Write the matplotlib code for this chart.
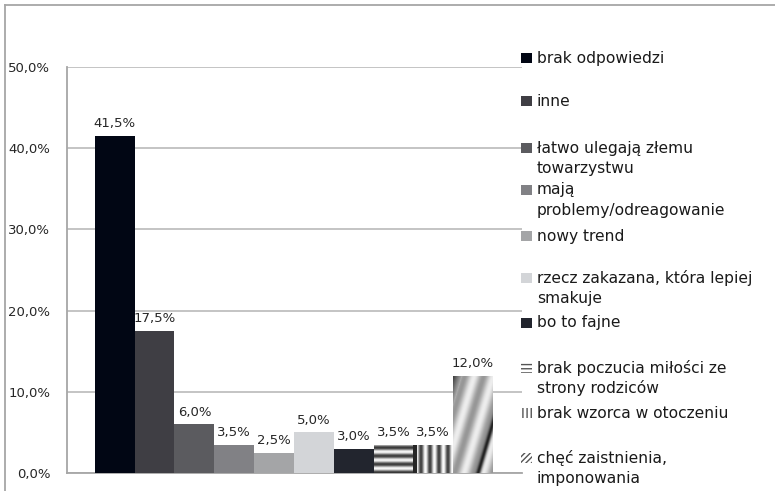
# -*- coding: UTF-8 -*-
import matplotlib.pyplot as plt
import matplotlib.patches as mpatches
import numpy as np

# dane z wykresu
kategorie = ['brak odpowiedzi', 'inne', 'łatwo ulegają złemu\ntowarzystwu',
             'mają\nproblemy/odreagowanie', 'nowy trend',
             'rzecz zakazana, która lepiej\nsmakuje', 'bo to fajne',
             'brak poczucia miłości ze\nstrony rodziców', 'brak wzorca w otoczeniu',
             'chęć zaistnienia,\nimponowania']
wartosci = [41.5, 17.5, 6.0, 3.5, 2.5, 5.0, 3.0, 3.5, 3.5, 12.0]
etykiety = ['41,5%', '17,5%', '6,0%', '3,5%', '2,5%', '5,0%', '3,0%', '3,5%', '3,5%', '12,0%']
yticks = [0, 10, 20, 30, 40, 50]
yticklabels = ['0,0%', '10,0%', '20,0%', '30,0%', '40,0%', '50,0%']

kolory = ['#010614', '#3f3e44', '#5b5b5f', '#818185', '#a4a5a7',
          '#d3d5d8', '#22252e', '#8a8a8a', '#9a9a9a', '#9a9a9a']
wzory = [None] * 7 + ['poziom', 'pion', 'skos']

plt.rcParams['font.family'] = ['DejaVu Sans']
W, H = 775, 491
fig = plt.figure(figsize=(W / 100, H / 100), dpi=100)

def fx(px):  # piksele -> ułamek figury
    return px / W

def fy(py):
    return 1 - py / H

ax = fig.add_axes([fx(67), fy(473), fx(522) - fx(67), fy(67) - fy(473)])
x = np.arange(len(wartosci))
bars = ax.bar(x, wartosci, width=1.0, color=kolory, zorder=3)

# tekstury dla trzech ostatnich słupków
for b, wz in zip(bars, wzory):
    if wz is None:
        continue
    x0, w, h = b.get_x(), b.get_width(), b.get_height()
    hp = max(int(h * 8.12), 2)
    wp = 40
    yy, xx = np.mgrid[0:hp, 0:wp]
    if wz == 'poziom':
        z = 0.6 + 0.38 * np.cos(2 * np.pi * (yy - hp) / 8.0)
    elif wz == 'pion':
        z = 0.62 + 0.36 * np.cos(2 * np.pi * (xx - 3) / 9.0)
        z[:, :4] = 0.15
    else:
        u = xx - 0.3 * yy
        z = 0.76 + 0.17 * np.cos(2 * np.pi * (u + 8) / 19.0)
        z = z - 0.6 * np.exp(-((u - 25) / 2.5) ** 2)
        z = np.where(u < -20, 0.18 + 0.5 * np.clip((u + 30) / 10, 0, 1), z)
    b.set_facecolor('none')
    im = ax.imshow(z, extent=[x0, x0 + w, 0, h], origin='lower', aspect='auto',
                   cmap='gray', vmin=0, vmax=1, zorder=3, interpolation='bilinear')
    im.set_clip_path(b)

# etykiety wartości
for xi, v, t in zip(x, wartosci, etykiety):
    ax.annotate(t, (xi, v), xytext=(0, 4), textcoords='offset points',
                ha='center', va='bottom', fontsize=9.5, color='#262626')

ax.set_xlim(-1.2, 10.23)
ax.set_ylim(0, 50)
ax.set_yticks(yticks)
ax.set_yticklabels(yticklabels, fontsize=9.5, color='#262626')
ax.set_xticks([])
ax.tick_params(axis='y', length=0, pad=12)
ax.grid(axis='y', color='#bfbfbf', linewidth=1.3, zorder=0)
for s in ['top', 'right']:
    ax.spines[s].set_visible(False)
for s in ['left', 'bottom']:
    ax.spines[s].set_color('#a6a6a6')
    ax.spines[s].set_linewidth(1.3)

# legenda rysowana ręcznie
leg_y = [58, 101, 148, 190, 236, 278, 323, 368, 413, 458]
hatch = {'poziom': '----', 'pion': '||||', 'skos': '//////'}
for k, (lab, ly) in enumerate(zip(kategorie, leg_y)):
    wz = wzory[k]
    if wz is None:
        r = mpatches.Rectangle((fx(521), fy(ly + 5)), fx(11), fx(10) * W / H,
                               transform=fig.transFigure, facecolor=kolory[k],
                               edgecolor='none')
    else:
        r = mpatches.Rectangle((fx(521), fy(ly + 5)), fx(11), fx(10) * W / H,
                               transform=fig.transFigure, facecolor='white',
                               edgecolor='#555555', hatch=hatch[wz], linewidth=0)
    fig.add_artist(r)
    for j, l in enumerate(lab.split('\n')):
        fig.text(fx(537), fy(ly + 20 * j), l, ha='left', va='center',
                 fontsize=11.2, color='#1a1a1a')

# ramka wokół obrazka (widoczna tylko góra i lewa strona)
fig.add_artist(plt.Line2D([fx(5), 1], [fy(5), fy(5)], color='#a6a6a6', lw=1.3))
fig.add_artist(plt.Line2D([fx(5), fx(5)], [fy(5), 0], color='#a6a6a6', lw=1.3))

plt.savefig('out.png', dpi=100)
